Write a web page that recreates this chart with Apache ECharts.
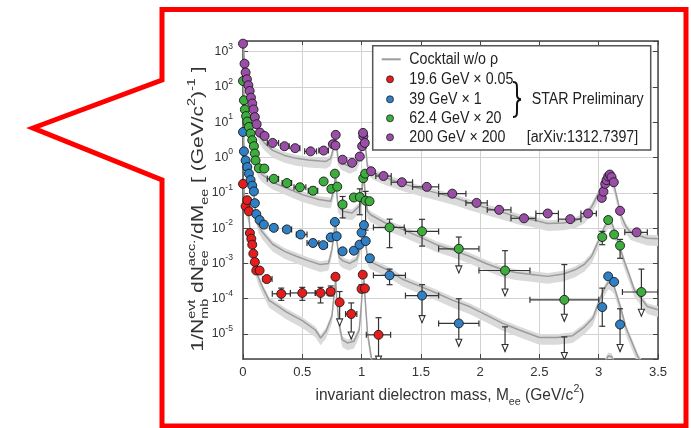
<!DOCTYPE html>
<html><head><meta charset="utf-8">
<script src="https://cdn.jsdelivr.net/npm/echarts@6/dist/echarts.min.js"></script>
<style>html,body{margin:0;padding:0;background:#fff}#c{width:691px;height:428px}</style>
</head><body><div id="c"></div>
<script>
// ---------------- DATA ----------------
// point rows: [x, y, xLow, xHigh, yLow, yHigh, upperLimitArrowTip]
const seriesNames = ['19.6 GeV \u00d7 0.05', '39 GeV \u00d7 1', '62.4 GeV \u00d7 20', '200 GeV \u00d7 200'];
const cocktailName = 'Cocktail w/o \u03c1';
const xTicks = [0, 0.5, 1, 1.5, 2, 2.5, 3, 3.5];
const yTickExps = [-5, -4, -3, -2, -1, 0, 1, 2, 3];

const redPts = [
 [0.0,0.18],[0.022,0.042],[0.036,0.062],[0.05,0.030],[0.058,0.0073],[0.07,0.0050],[0.078,0.0034],[0.087,0.0019],
 [0.10,0.0011],[0.112,0.00063],[0.14,0.00063],[0.20,0.00036,0.17,0.245],
 [0.323,1.38e-4,0.247,0.40,9e-5,2.0e-4],[0.50,1.46e-4,0.40,0.61,9e-5,2.1e-4],[0.654,1.46e-4,0.61,0.71,7.6e-5,2.1e-4],
 [0.74,1.6e-4,0.71,0.77,1.2e-4,2.3e-4],[0.78,4.2e-4,null,null,3.4e-4,5.0e-4],
 [0.815,7.9e-5,null,null,null,1.6e-4,1.7e-5],[0.913,3.7e-5,0.865,0.96,null,7.6e-5,7.2e-6],
 [1.0,1.9e-4,null,null,1.5e-4,2.5e-4],[1.01,4.8e-4],[1.028,1.96e-4,null,null,1.6e-4,2.3e-4],
 [1.143,9.5e-6,1.04,1.245,null,2.9e-5,1.5e-6]
];
const bluePts = [
 [0.0,5.3],[0.008,1.5],[0.022,0.83],[0.036,0.54],[0.05,0.35],[0.064,0.23],[0.078,0.16],[0.092,0.11],
 [0.10,0.051],[0.112,0.025],[0.14,0.017],[0.176,0.0126],[0.26,0.0102,0.23,0.29],[0.37,0.0092,0.34,0.41],
 [0.486,0.0066,0.45,0.54],[0.59,0.0038,0.54,0.64,0.0032,0.0045],[0.677,0.0033,0.65,0.71,0.0027,0.0039],
 [0.74,0.0055,null,null,0.0047,0.0063],[0.775,0.015],[0.79,0.0059,null,null,0.0049,0.0068],
 [0.84,0.0022,0.82,0.865,0.0018,0.0026],[0.935,0.0023,0.91,0.96,0.0019,0.0027],[0.983,0.0034],
 [1.0,0.0075],[1.02,0.0122],[1.035,0.0043],[1.07,0.0014,null,null,0.0011,0.0017],
 [1.236,4.6e-4,1.10,1.37,2.5e-4,6.9e-4],[1.51,1.23e-4,1.37,1.65,null,2.5e-4,2.1e-5],
 [1.82,2.0e-5,1.65,1.99,null,1.0e-4,4.5e-6],[2.21,null,null,null,null,1.6e-5,3.2e-6],
 [2.71,null,null,null,null,8.3e-6,1.9e-6],
 [3.03,5.8e-5,null,null,1.66e-5,2.0e-4],[3.08,4.3e-4],[3.13,3.0e-4],[3.18,1.86e-5,null,null,null,5.2e-5,3.2e-6]
];
const greenPts = [
 [0.0,148],[0.008,42],[0.016,23],[0.026,15],[0.036,10.5],[0.05,7.4],[0.064,4.8],[0.078,3.1],[0.092,2.1],
 [0.10,1.3],[0.106,0.83],[0.134,0.5],[0.18,0.49],
 [0.26,0.25,0.205,0.30],[0.37,0.19,0.33,0.41],[0.48,0.144,0.43,0.53],[0.59,0.115,0.55,0.63,0.09,0.145],
 [0.68,0.21],[0.745,0.13,null,null,0.105,0.16],[0.775,0.35],[0.795,0.15],
 [0.84,0.047,0.815,0.87,0.0195,0.079],[0.935,0.074,0.91,0.96],[0.985,0.076,null,null,0.024,0.13],
 [1.014,0.26],[1.03,0.35],[1.034,0.060,null,null,0.0088,0.11],[1.067,0.058],
 [1.236,0.0105,1.10,1.36,0.0028,0.018],[1.51,0.0081,1.37,1.65,0.0031,0.0178],
 [1.82,0.0026,1.65,1.99,null,0.0056,5.4e-4],[2.21,6.3e-4,1.99,2.42,null,0.0023,1.2e-4],
 [2.71,9.3e-5,2.42,3.0,null,9.3e-4,2.3e-5],
 [3.03,0.0056,null,null,0.0034,0.0081],[3.08,0.017],[3.13,0.0066],[3.18,0.0032,null,null,0.0014,0.0048],
 [3.36,1.55e-4,3.20,3.5,null,6.9e-4,3.2e-5]
];
const purplePts = [
 [0.0,1690],[0.013,457],[0.022,257],[0.033,165],[0.045,112],[0.056,77],[0.067,50],[0.078,34],[0.089,23],
 [0.10,14],[0.115,8.8],[0.143,5.1],[0.182,4.1],
 [0.25,2.6,0.205,0.30],[0.35,2.1,0.32,0.39],[0.44,1.85,0.41,0.48],[0.57,1.5,0.52,0.62],[0.68,1.58,0.64,0.72],
 [0.758,2.4],[0.78,2.2],[0.782,4.4],[0.84,0.87],[0.92,0.71],[0.985,1.07],[1.005,2.1],[1.015,4.0],[1.012,5.0],[1.027,2.6],
 [1.08,0.41,1.06,1.10],[1.185,0.30,1.12,1.25],[1.34,0.20,1.25,1.43],[1.55,0.148,1.43,1.65],[1.765,0.095,1.65,1.88],
 [1.97,0.052,1.88,2.06],[2.16,0.033,2.06,2.26],[2.37,0.019,2.26,2.47],[2.57,0.026,2.47,2.66],[2.76,0.018,2.66,2.85],
 [2.91,0.026,2.85,2.98],
 [3.026,0.072],[3.04,0.108],[3.055,0.18],[3.066,0.23],[3.08,0.29],[3.094,0.33],[3.108,0.28],[3.127,0.20],
 [3.18,0.031,3.16,3.20],[3.32,0.0076,3.22,3.41]
];

// cocktail (w/o rho) curves: [x, y]
const redCocktail = [
 [0.005,0.17],[0.02,0.04],[0.035,0.03],[0.05,0.022],[0.06,0.008],[0.07,0.005],[0.08,0.0032],[0.09,0.0019],
 [0.1,0.0011],[0.11,6.5e-4],[0.13,4e-4],[0.16,2.3e-4],[0.22,9e-5],[0.3,6e-5],[0.36,4.3e-5],[0.5,2.4e-5],
 [0.61,1.3e-5],[0.655,7.7e-6],[0.7,1.2e-5],[0.75,3.2e-5],[0.77,1.5e-4],[0.782,3.5e-4],[0.79,1e-4],[0.81,2e-5],
 [0.837,6.9e-6],[0.88,5.6e-6],[0.935,6.2e-6],[0.98,1.3e-5],[0.995,5e-5],[1.01,2.5e-4],[1.02,3.5e-4],[1.03,1e-4],
 [1.05,1.07e-5],[1.09,1.5e-6],[1.15,5e-7],[2.98,5e-7],[3.04,1.3e-6],[3.08,2.4e-6],[3.11,2.3e-6],[3.15,1e-6],[3.2,4e-7]
];
const blueCocktail = [
 [0.005,5],[0.01,1.4],[0.02,0.8],[0.035,0.5],[0.05,0.32],[0.064,0.21],[0.078,0.14],[0.092,0.09],[0.1,0.045],
 [0.11,0.022],[0.13,0.012],[0.16,0.008],[0.2,0.0055],[0.25,0.0035],[0.35,0.0022],[0.45,0.0016],[0.55,0.0012],
 [0.65,0.00093],[0.72,0.001],[0.75,0.0025],[0.775,0.012],[0.783,0.016],[0.79,0.005],[0.81,0.0015],[0.84,0.0012],
 [0.9,0.001],[0.96,0.0013],[0.99,0.003],[1.01,0.009],[1.02,0.012],[1.03,0.005],[1.05,0.0015],[1.07,0.00115],
 [1.24,6e-4],[1.35,3.5e-4],[1.5,2.2e-4],[1.63,1.45e-4],[1.77,9e-5],[1.91,6e-5],[2.05,3.5e-5],[2.19,2e-5],
 [2.33,1.3e-5],[2.5,8e-6],[2.65,8e-6],[2.78,9e-6],[2.88,1.6e-5],[2.95,2.8e-5],[3.0,8e-5],[3.05,2e-4],[3.08,2.9e-4],
 [3.1,2.8e-4],[3.13,2.2e-4],[3.19,4.9e-5],[3.23,1.5e-5],[3.26,8.5e-6],[3.33,2.3e-6],[3.38,1.2e-6]
];
const greenCocktail = [
 [0.005,140],[0.01,40],[0.02,20],[0.03,13],[0.04,9.5],[0.05,6.8],[0.064,4.4],[0.078,2.8],[0.092,1.8],[0.1,1.1],
 [0.11,0.7],[0.13,0.45],[0.16,0.33],[0.19,0.28],[0.25,0.2],[0.36,0.14],[0.5,0.089],[0.64,0.065],[0.74,0.058],
 [0.765,0.12],[0.78,0.33],[0.79,0.11],[0.8,0.045],[0.84,0.03],[0.92,0.027],[0.99,0.045],[1.01,0.2],[1.02,0.28],
 [1.03,0.1],[1.05,0.03],[1.076,0.024],[1.2,0.014],[1.35,0.0091],[1.5,0.0055],[1.63,0.0034],[1.77,0.0024],
 [1.91,0.0016],[2.05,0.001],[2.19,6.6e-4],[2.3,5.5e-4],[2.45,4.8e-4],[2.57,4.3e-4],[2.7,5e-4],[2.8,6.6e-4],
 [2.88,9.5e-4],[2.94,0.0016],[3.0,0.0045],[3.05,0.011],[3.09,0.017],[3.11,0.014],[3.13,0.0091],[3.17,0.0035],
 [3.22,0.00105],[3.26,4.5e-4],[3.3,1.8e-4],[3.36,1e-4],[3.41,6e-5],[3.5,4.9e-5]
];
const purpleCocktail = [
 [0.005,1500],[0.013,420],[0.022,240],[0.033,150],[0.045,100],[0.056,68],[0.067,44],[0.078,30],[0.089,20],
 [0.1,12],[0.115,7.5],[0.14,4.0],[0.18,2.6],[0.25,1.6],[0.35,1.15],[0.45,0.95],[0.55,0.85],[0.65,0.8],[0.7,0.78],
 [0.74,0.95],[0.765,2.0],[0.78,4.6],[0.79,2.2],[0.8,1.0],[0.83,0.72],[0.9,0.56],[0.96,0.68],[0.99,1.3],[1.01,3.5],
 [1.02,5.0],[1.03,2.5],[1.05,0.55],[1.1,0.38],[1.2,0.27],[1.35,0.18],[1.5,0.13],[1.63,0.1],[1.8,0.07],
 [1.91,0.052],[2.05,0.038],[2.19,0.028],[2.33,0.02],[2.45,0.017],[2.57,0.0135],[2.7,0.014],[2.8,0.016],
 [2.88,0.022],[2.94,0.04],[3.0,0.1],[3.04,0.2],[3.08,0.33],[3.1,0.3],[3.13,0.16],[3.16,0.06],[3.19,0.022],
 [3.23,0.011],[3.27,0.0075],[3.35,0.006],[3.41,0.0052],[3.5,0.005]
];

// ---------------- STYLE ----------------
const colors = ['#e51d1d', '#2f80c4', '#3dae3d', '#9a4ea8'];
const allPts = [redPts, bluePts, greenPts, purplePts];
const allCocktails = [redCocktail, blueCocktail, greenCocktail, purpleCocktail];
const BAND_LO = 0.62, BAND_HI = 1.25;
const ERR = '#333';

const cv = document.createElement('canvas').getContext('2d');
function tw(s, font) { cv.font = font; return cv.measureText(s).width; }
const hasNarrow = tw('STAR Preliminary', '16px "Liberation Sans Narrow", monospace') <
                  0.9 * tw('STAR Preliminary', '16px "Liberation Sans", monospace');
const FAM = hasNarrow ? '"Liberation Sans Narrow", "Liberation Sans", sans-serif' : '"Liberation Sans", Arial, sans-serif';
const K = hasNarrow ? 1 : 0.82;

const chart = echarts.init(document.getElementById('c'), null, { renderer: 'canvas' });

function errRender(rows) {
  return function (params, api) {
    const r = rows[params.dataIndex];
    const x = r[0], y = r[1], xlo = r[2], xhi = r[3], ylo = r[4], yhi = r[5], tip = r[6];
    const kids = [];
    const st = { stroke: ERR, lineWidth: 1.2 };
    const C = 3;
    const ln = (x1, y1, x2, y2) => ({ type: 'line', shape: { x1, y1, x2, y2 }, style: st });
    if (xlo != null && y != null) {
      const a = api.coord([xlo, y]), b = api.coord([xhi, y]);
      kids.push(ln(a[0], a[1], b[0], b[1]), ln(a[0], a[1] - C, a[0], a[1] + C), ln(b[0], b[1] - C, b[0], b[1] + C));
    }
    if (yhi != null) {
      const top = api.coord([x, yhi]);
      const bot = api.coord([x, tip != null ? tip : ylo]);
      kids.push(ln(top[0], top[1], bot[0], bot[1]), ln(top[0] - C, top[1], top[0] + C, top[1]));
      if (tip != null) {
        kids.push({ type: 'polygon', shape: { points: [[bot[0] - 3, bot[1] - 7], [bot[0] + 3, bot[1] - 7], [bot[0], bot[1]]] },
          style: { fill: '#fff', stroke: ERR, lineWidth: 1.1 } });
      } else {
        kids.push(ln(bot[0] - C, bot[1], bot[0] + C, bot[1]));
      }
    }
    return { type: 'group', children: kids };
  };
}

const series = [];
allCocktails.forEach((ck) => {
  series.push({
    type: 'custom', coordinateSystem: 'cartesian2d', data: [[ck[0][0], ck[0][1]]], clip: true, silent: true, z: 1,
    renderItem: (p, api) => {
      const up = ck.map(q => api.coord([q[0], q[1] * BAND_HI]));
      const lo = ck.map(q => api.coord([q[0], q[1] * BAND_LO])).reverse();
      return { type: 'polygon', shape: { points: up.concat(lo) }, style: { fill: '#dadada' } };
    }
  });
});
allCocktails.forEach((ck) => {
  series.push({ type: 'line', data: ck, symbol: 'none', clip: true, silent: true, z: 2,
    lineStyle: { color: '#9c9c9c', width: 1.5 } });
});
allPts.forEach((rows) => {
  series.push({ type: 'custom', coordinateSystem: 'cartesian2d', clip: true, silent: true, z: 3,
    data: rows.map(r => [r[0], r[1] != null ? r[1] : r[5]]), renderItem: errRender(rows) });
});
allPts.forEach((rows, i) => {
  series.push({ type: 'scatter', name: seriesNames[i], z: 4, symbol: 'circle', symbolSize: 9, silent: true,
    data: rows.filter(r => r[1] != null).map(r => [r[0], r[1]]),
    itemStyle: { color: colors[i], borderColor: '#1a1a1a', borderWidth: 0.9, opacity: 1 } });
});

// ---------- titles built from pieces (sub/superscripts) ----------
function buildTitle(segs, cx, cy, rot, targetW, base, small, z) {
  const kids = []; let x = 0;
  const txt = (t, px, py, size) => ({ type: 'text', x: px, y: py, z: z,
    style: { text: t, font: size + 'px ' + FAM, fill: '#333', align: 'left', verticalAlign: 'middle' } });
  segs.forEach(sg => {
    if (sg.stack) {
      const w1 = tw(sg.stack[0], small + 'px ' + FAM), w2 = tw(sg.stack[1], small + 'px ' + FAM);
      kids.push(txt(sg.stack[0], x, -base * 0.42, small), txt(sg.stack[1], x, base * 0.36, small));
      x += Math.max(w1, w2);
    } else if (sg.sup != null) {
      kids.push(txt(sg.sup, x, -base * 0.42, small)); x += tw(sg.sup, small + 'px ' + FAM);
    } else if (sg.sub != null) {
      kids.push(txt(sg.sub, x, base * 0.36, small)); x += tw(sg.sub, small + 'px ' + FAM);
    } else {
      kids.push(txt(sg.t, x, 0, base)); x += tw(sg.t, base + 'px ' + FAM);
    }
  });
  kids.forEach(k => { k.x -= x / 2; });
  return { type: 'group', x: cx, y: cy, rotation: rot, scaleX: targetW / x, z: z, children: kids };
}
const xTitle = buildTitle([{ t: 'invariant dielectron mass, M' }, { sub: 'ee' }, { t: ' (GeV/c' }, { sup: '2' }, { t: ')' }],
  450, 396, 0, 269, 16, 11, 20);
const yTitle = buildTitle([{ t: '1/N' }, { stack: ['evt', 'mb'] }, { t: ' dN' }, { stack: ['acc.', 'ee'] }, { t: '/dM' }, { sub: 'ee' },
  { t: ' [ (GeV/c' }, { sup: '2' }, { t: ')' }, { sup: '-1' }, { t: ' ]' }],
  199, 209, Math.PI / 2, 285, 16, 11, 20);

// ---------- legend (drawn) ----------
const LF = '16px ' + FAM;
const legScale = 112 / tw('STAR Preliminary', LF);
const legend = [];
const LZ = 50;
legend.push({ type: 'rect', z: LZ, shape: { x: 372.7, y: 45.7, width: 278, height: 104.3 },
  style: { fill: '#fff', stroke: '#555', lineWidth: 1.5 } });
legend.push({ type: 'line', z: LZ + 1, shape: { x1: 381.7, y1: 59.3, x2: 400.7, y2: 59.3 }, style: { stroke: '#9c9c9c', lineWidth: 2 } });
const legY = [79.3, 99.3, 118.3, 137.3];
const ltext = (t, x, y) => ({ type: 'text', z: LZ + 1, x, y, scaleX: legScale,
  style: { text: t, font: LF, fill: '#222', align: 'left', verticalAlign: 'middle' } });
legend.push(ltext(cocktailName, 409.3, 59.3));
seriesNames.forEach((n, i) => {
  legend.push({ type: 'circle', z: LZ + 1, shape: { cx: 390, cy: legY[i], r: 3.5 }, style: { fill: colors[i], stroke: '#222', lineWidth: 0.8 } });
  legend.push(ltext(n, 409.3, legY[i]));
});
const bst = { fill: null, stroke: '#111', lineWidth: 2 };
const bz = (x1, y1, cpx1, cpy1, cpx2, cpy2, x2, y2) => ({ type: 'bezierCurve', z: LZ + 1,
  shape: { x1, y1, cpx1, cpy1, cpx2, cpy2, x2, y2 }, style: bst });
const bl = (x1, y1, x2, y2) => ({ type: 'line', z: LZ + 1, shape: { x1, y1, x2, y2 }, style: bst });
const BX = 513, BY = 82;
legend.push(
  bz(BX, BY, BX + 4, BY, BX + 4, BY + 2, BX + 4, BY + 7),
  bl(BX + 4, BY + 7, BX + 4, BY + 13),
  bz(BX + 4, BY + 13, BX + 4, BY + 16, BX + 5, BY + 17, BX + 8, BY + 17.5),
  bz(BX + 8, BY + 17.5, BX + 5, BY + 18, BX + 4, BY + 19, BX + 4, BY + 22),
  bl(BX + 4, BY + 22, BX + 4, BY + 28),
  bz(BX + 4, BY + 28, BX + 4, BY + 33, BX + 4, BY + 35, BX, BY + 35)
);
legend.push(ltext('STAR Preliminary', 531.7, 99.3));
legend.push(ltext('[arXiv:1312.7397]', 526.7, 137.3));

// ---------- callout outline ----------
const callout = { type: 'polygon', z: 200,
  shape: { points: [[162, 9.5], [686, 9.5], [686, 426], [162, 426], [162, 180], [33, 128], [162, 80]] },
  style: { fill: null, stroke: '#ff0000', lineWidth: 5, lineJoin: 'miter' } };

const axisLineStyle = { color: '#444', width: 1.5 };
const option = {
  animation: false,
  backgroundColor: '#fff',
  grid: { left: 243, top: 41, right: 33, bottom: 69, show: false },
  xAxis: [
    { type: 'value', min: xTicks[0], max: xTicks[xTicks.length - 1], interval: 0.5, position: 'bottom',
      axisLine: { show: true, onZero: false, lineStyle: axisLineStyle },
      axisTick: { show: true, inside: true, length: 5, lineStyle: { color: '#444' } },
      axisLabel: { margin: 7, color: '#333', fontSize: 16 * K, fontFamily: FAM,
        formatter: v => { const t = xTicks.find(q => Math.abs(q - v) < 1e-6); return t == null ? '' : String(t); } },
      splitLine: { show: true, lineStyle: { color: '#d2d2d2', width: 1 } } },
    { type: 'value', min: xTicks[0], max: xTicks[xTicks.length - 1], interval: 0.5, position: 'top',
      axisLine: { show: true, onZero: false, lineStyle: axisLineStyle },
      axisTick: { show: true, inside: true, length: 4, lineStyle: { color: '#444' } },
      axisLabel: { show: false }, splitLine: { show: false } }
  ],
  yAxis: [
    { type: 'log', logBase: 10, min: 1.96e-6, max: 2010, splitNumber: 9, position: 'left',
      axisLine: { show: true, onZero: false, lineStyle: axisLineStyle },
      axisTick: { show: true, inside: true, length: 5, lineStyle: { color: '#444' } },
      axisLabel: { margin: 10, color: '#333', showMinLabel: false, showMaxLabel: false,
        formatter: v => {
          const l = Math.log10(v), e = Math.round(l);
          if (Math.abs(l - e) > 1e-3 || yTickExps.indexOf(e) < 0) return '';
          return '{b|10}{s|' + e + '}';
        },
        rich: { b: { fontSize: 15 * K, fontFamily: FAM, color: '#333' },
                s: { fontSize: 10.5 * K, fontFamily: FAM, color: '#333', padding: [0, 0, 11, 0] } } },
      splitLine: { show: true, lineStyle: { color: '#d2d2d2', width: 1 } } },
    { type: 'log', logBase: 10, min: 1.96e-6, max: 2010, splitNumber: 9, position: 'right',
      axisLine: { show: true, onZero: false, lineStyle: axisLineStyle },
      axisTick: { show: true, inside: true, length: 5, lineStyle: { color: '#444' } },
      axisLabel: { show: false }, splitLine: { show: false } }
  ],
  series: series,
  graphic: { elements: [xTitle, yTitle].concat(legend).concat([callout]) }
};
chart.setOption(option);
</script>
</body></html>
